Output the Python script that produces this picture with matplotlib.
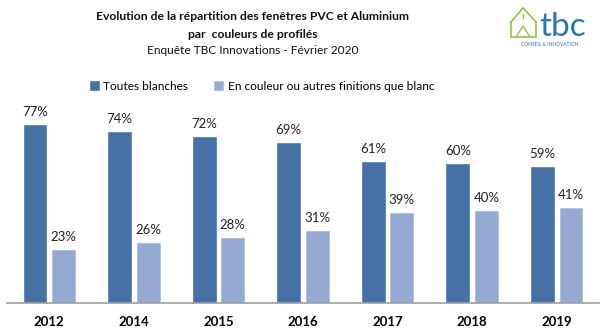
import numpy as np
import matplotlib
matplotlib.use("Agg")
import matplotlib.pyplot as plt
from matplotlib.lines import Line2D

years = ["2012", "2014", "2015", "2016", "2017", "2018", "2019"]
blanches = [77, 74, 72, 69, 61, 60, 59]
couleur = [23, 26, 28, 31, 39, 40, 41]
series_names = ["Toutes blanches", "En couleur ou autres finitions que blanc"]

dark = "#4571A6"
light = "#94AAD2"

plt.rcParams['font.family'] = ['Lato', 'DejaVu Sans']

fig = plt.figure(figsize=(6.0, 3.31), dpi=100)
W, H = 600, 331
# axes placed in pixel terms
ax = fig.add_axes([7 / W, 28 / H, 592 / W, 185 / H])

x = np.arange(len(years))
bw = 0.27
off = 0.169
b1 = ax.bar(x - off, blanches, bw, color=dark, edgecolor="#5B84B8", linewidth=0.6)
b2 = ax.bar(x + off, couleur, bw, color=light, edgecolor="#AFC0DE", linewidth=0.6)

for bars, vals in ((b1, blanches), (b2, couleur)):
    for r, v in zip(bars, vals):
        ax.annotate(f"{v}%", (r.get_x() + r.get_width() / 2, v),
                    xytext=(0, 5), textcoords="offset points",
                    ha="center", va="bottom", fontsize=9.5, color="#222222")

ax.set_xlim(-0.5, len(years) - 0.5)
ax.set_ylim(0, 80)
ax.set_yticks([])
ax.set_xticks(x)
ax.set_xticklabels(years, fontweight="bold", fontsize=9.5)
ax.tick_params(axis="x", length=0, pad=9)
for s in ("top", "right", "left"):
    ax.spines[s].set_visible(False)
ax.spines["bottom"].set_color("#A0A0A0")
ax.spines["bottom"].set_linewidth(1.2)

# titles
fig.text(253 / W, 1 - 16 / H, "Evolution de la répartition des fenêtres PVC et Aluminium",
         ha="center", va="center", fontsize=8.7, fontweight="bold", color="#111111")
fig.text(253 / W, 1 - 34 / H, "par  couleurs de profilés",
         ha="center", va="center", fontsize=8.7, fontweight="bold", color="#111111")
fig.text(253 / W, 1 - 51 / H, "Enquête TBC Innovations - Février 2020",
         ha="center", va="center", fontsize=8.6, color="#111111")

# legend
leg = fig.legend([b1, b2], series_names, loc="center", bbox_to_anchor=(262 / W, 1 - 86 / H),
                 ncol=2, frameon=False, fontsize=8.6, handlelength=0.75, handleheight=0.75,
                 columnspacing=2.2, handletextpad=0.35)

# logo
green = "#8CC63F"
hx = [511, 523, 536, 536, 511, 511]
hy = [22, 8, 22, 37, 37, 22]
fig.add_artist(Line2D([v / W for v in hx], [1 - v / H for v in hy], color=green, lw=1.2))
fig.add_artist(Line2D([516 / W, 523 / W, 530 / W], [1 - 37 / H, 1 - 26 / H, 1 - 37 / H], color=green, lw=1.0))
fig.add_artist(Line2D([523 / W, 523 / W], [1 - 14 / H, 1 - 18 / H], color=green, lw=1.0))
fig.text(563 / W, 1 - 27 / H, "tbc", ha="center", va="center", fontsize=24, color="#2A74B8")
fig.text(550 / W, 1 - 44 / H, "CONSEIL & INNOVATION", ha="center", va="center",
         fontsize=3.5, color="#2A74B8")

fig.savefig("out.png", dpi=100)
